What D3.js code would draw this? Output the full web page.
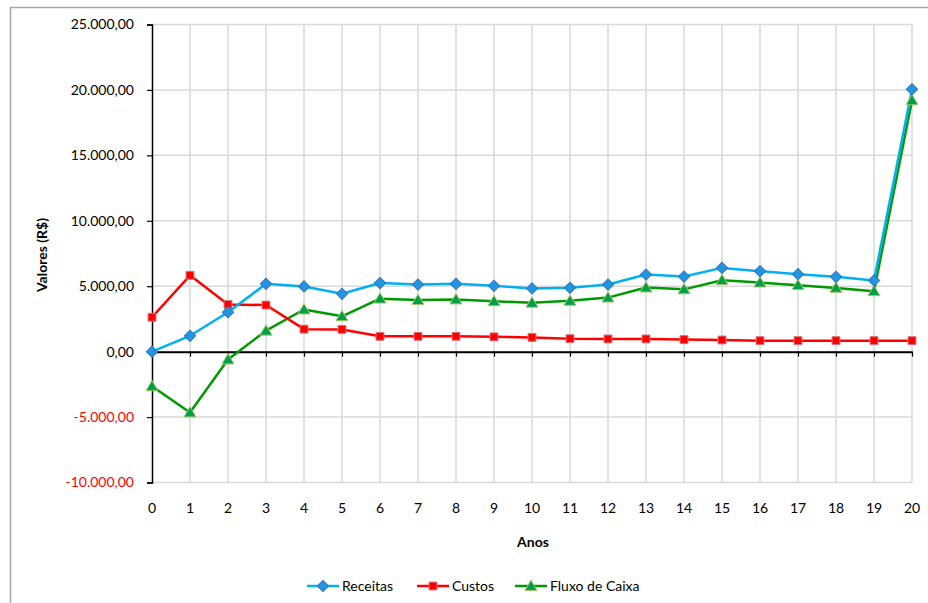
<!DOCTYPE html>
<html>
<head>
<meta charset="utf-8">
<script src="https://cdn.jsdelivr.net/npm/d3@7/dist/d3.min.js"></script>
<style>
  html, body { margin: 0; padding: 0; background: #fff; }
  svg { display: block; font-family: Lato, "Open Sans", sans-serif; }
</style>
</head>
<body>
<svg id="chart" width="928" height="603"></svg>
<script>
// Anos do projeto
const anos = d3.range(0, 21);

// Séries (R$)
const receitas = [0, 1210, 3010, 5180, 4980, 4420, 5240, 5130, 5180, 5030, 4830,
                  4880, 5130, 5890, 5740, 6400, 6150, 5920, 5720, 5440, 20050];
const custos = [2630, 5830, 3610, 3560, 1720, 1700, 1170, 1170, 1170, 1130, 1090,
                990, 970, 970, 920, 890, 840, 840, 840, 840, 840];
const fluxo = [-2650, -4650, -600, 1600, 3220, 2700, 4050, 3940, 3990, 3850, 3730,
               3880, 4130, 4900, 4760, 5460, 5280, 5080, 4870, 4620, 19200];

// Marcas do eixo Y
const yTicks = [-10000, -5000, 0, 5000, 10000, 15000, 20000, 25000];

const seriesNames = ["Receitas", "Custos", "Fluxo de Caixa"];

const svg = d3.select("#chart");

// Moldura da área do gráfico
svg.append("rect")
  .attr("x", 10.5).attr("y", 7.5)
  .attr("width", 940).attr("height", 620)
  .attr("fill", "#fff")
  .attr("stroke", "#a6a6a6")
  .attr("stroke-width", 1.5);

const x = d3.scaleLinear().domain([0, 20]).range([152, 912]);
const y = d3.scaleLinear().domain([-10000, 25000]).range([482.5, 24.5]);

const fmt = v => {
  const s = d3.format(",.2f")(Math.abs(v)).replace(/,/g, "#").replace(".", ",").replace(/#/g, ".");
  return (v < 0 ? "-" : "") + s;
};

// Grade
const grid = svg.append("g");
grid.selectAll("line.h").data(yTicks).join("line")
  .attr("x1", x(0)).attr("x2", x(20))
  .attr("y1", d => y(d)).attr("y2", d => y(d))
  .attr("stroke", "#d9d9d9").attr("stroke-width", 1.5);
grid.selectAll("line.v").data(anos.slice(1)).join("line")
  .attr("x1", d => x(d)).attr("x2", d => x(d))
  .attr("y1", y(25000)).attr("y2", y(-10000))
  .attr("stroke", "#d9d9d9").attr("stroke-width", 1.5);

// Eixo Y
const yAxis = svg.append("g")
  .attr("transform", `translate(${x(0)},0)`)
  .call(d3.axisLeft(y).tickValues(yTicks).tickFormat(fmt).tickSize(5).tickPadding(13));
yAxis.select(".domain").attr("stroke", "#000").attr("stroke-width", 1.5);
yAxis.selectAll(".tick line").attr("stroke", "#000").attr("stroke-width", 1.2);
yAxis.selectAll(".tick text")
  .attr("font-size", 14)
  .attr("font-family", "Lato, sans-serif")
  .attr("fill", d => d < 0 ? "#ff0000" : "#000");

// Eixo X na linha do zero
const xAxis = svg.append("g")
  .attr("transform", `translate(0,${y(0)})`)
  .call(d3.axisBottom(x).tickValues(anos).tickFormat("").tickSize(5).tickSizeOuter(0));
xAxis.select(".domain").attr("stroke", "#000").attr("stroke-width", 2);
xAxis.selectAll(".tick line").attr("stroke", "#000").attr("stroke-width", 1.2);

// Rótulos dos anos abaixo da área de plotagem
svg.append("g").selectAll("text").data(anos).join("text")
  .attr("x", d => x(d)).attr("y", 513)
  .attr("text-anchor", "middle")
  .attr("font-size", 14)
  .attr("fill", "#000")
  .text(d => d);

// Títulos dos eixos
svg.append("text")
  .attr("transform", "translate(47,255) rotate(-90)")
  .attr("text-anchor", "middle")
  .attr("font-size", 14).attr("font-weight", "bold")
  .text("Valores (R$)");
svg.append("text")
  .attr("x", 533).attr("y", 547)
  .attr("text-anchor", "middle")
  .attr("font-size", 14).attr("font-weight", "bold")
  .text("Anos");

// Estilos das séries (losango = quadrado girado 45°)
const styles = [
  { data: receitas, line: "#00b0f0", fill: "#1f96e0", stroke: "#3c74c0", shape: d3.symbolSquare, size: 64, rot: 45, dy: 0 },
  { data: custos,   line: "#ff0000", fill: "#ff0000", stroke: "#d9707a", shape: d3.symbolSquare, size: 62, rot: 0,  dy: 0 },
  { data: fluxo,    line: "#009900", fill: "#00a04a", stroke: "#a9c56a", shape: d3.symbolTriangle, size: 62, rot: 0, dy: 1 }
];

const line = d3.line().x((d, i) => x(anos[i])).y(d => y(d));

// Linhas na ordem inversa para que Receitas fique por cima
[2, 1, 0].forEach(k => {
  const s = styles[k];
  svg.append("path")
    .attr("d", line(s.data))
    .attr("fill", "none")
    .attr("stroke", s.line)
    .attr("stroke-width", 2.5)
    .attr("stroke-linejoin", "round");
});
[2, 1, 0].forEach(k => {
  const s = styles[k];
  svg.append("g").selectAll("path").data(s.data).join("path")
    .attr("transform", (d, i) => `translate(${x(anos[i])},${y(d) + s.dy}) rotate(${s.rot})`)
    .attr("d", d3.symbol(s.shape, s.size))
    .attr("fill", s.fill)
    .attr("stroke", s.stroke)
    .attr("stroke-width", 1);
});

// Legenda
const legX = [307, 417, 515];
const legend = svg.append("g");
styles.forEach((s, k) => {
  const g = legend.append("g").attr("transform", `translate(${legX[k]},586)`);
  g.append("line").attr("x1", 0).attr("x2", 32).attr("y1", 0).attr("y2", 0)
    .attr("stroke", s.line).attr("stroke-width", 2.5);
  g.append("path")
    .attr("transform", `translate(16,${s.dy}) rotate(${s.rot})`)
    .attr("d", d3.symbol(s.shape, s.size))
    .attr("fill", s.fill).attr("stroke", s.stroke).attr("stroke-width", 1);
  g.append("text").attr("x", 35).attr("y", 5)
    .attr("font-size", 14).attr("fill", "#000")
    .text(seriesNames[k]);
});
</script>
</body>
</html>
